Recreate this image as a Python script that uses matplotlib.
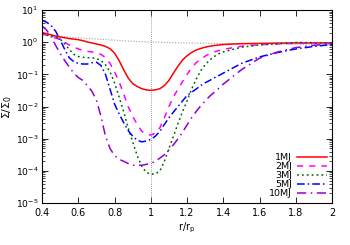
import numpy as np
import matplotlib.pyplot as plt
from matplotlib.ticker import FixedLocator, FuncFormatter, LogLocator, NullFormatter

plt.rcParams['font.family'] = 'DejaVu Sans'
plt.rcParams['font.size'] = 7

# radius grid (r / r_p)
r = [0.400, 0.425, 0.450, 0.475, 0.500, 0.525, 0.550, 0.575, 0.600, 0.625,
     0.650, 0.675, 0.700, 0.725, 0.750, 0.775, 0.800, 0.825, 0.850, 0.875,
     0.900, 0.925, 0.950, 0.975, 1.000, 1.025, 1.050, 1.075, 1.100, 1.125,
     1.150, 1.175, 1.200, 1.225, 1.250, 1.275, 1.300, 1.325, 1.350, 1.375,
     1.400, 1.500, 1.600, 1.700, 1.800, 1.900, 2.000]

# surface density Sigma / Sigma_0
s_1mj = [2.0, 1.85, 1.7, 1.55, 1.45, 1.38, 1.3, 1.25, 1.2, 1.12,
         1.02, 0.95, 0.88, 0.82, 0.74, 0.63, 0.46, 0.27, 0.14, 0.078,
         0.052, 0.042, 0.036, 0.033, 0.032, 0.033, 0.036, 0.045, 0.065, 0.11,
         0.18, 0.28, 0.38, 0.48, 0.57, 0.64, 0.7, 0.75, 0.79, 0.82,
         0.85, 0.9, 0.92, 0.94, 0.95, 0.95, 0.95]
s_2mj = [1.8, 1.65, 1.5, 1.35, 1.2, 1.0, 0.82, 0.7, 0.62, 0.56,
         0.52, 0.5, 0.47, 0.42, 0.33, 0.22, 0.12, 0.06, 0.025, 0.01,
         0.005, 0.0028, 0.0017, 0.0014, 0.0013, 0.0015, 0.0022, 0.0045, 0.01, 0.02,
         0.035, 0.06, 0.1, 0.16, 0.23, 0.3, 0.37, 0.44, 0.5, 0.55,
         0.6, 0.75, 0.84, 0.89, 0.92, 0.94, 0.95]
s_3mj = [1.8, 1.7, 1.6, 1.45, 1.25, 0.9, 0.6, 0.42, 0.36, 0.34,
         0.33, 0.33, 0.31, 0.27, 0.2, 0.12, 0.055, 0.02, 0.007, 0.0022,
         0.0008, 0.0003, 0.00014, 0.00009, 0.00008, 0.00008, 0.0001, 0.0002, 0.0005, 0.0012,
         0.003, 0.007, 0.015, 0.035, 0.07, 0.13, 0.2, 0.28, 0.36, 0.44,
         0.5, 0.7, 0.82, 0.9, 0.98, 0.97, 0.93]
s_5mj = [4.8, 4.2, 3.3, 2.2, 1.2, 0.6, 0.33, 0.25, 0.22, 0.21,
         0.21, 0.23, 0.24, 0.19, 0.1, 0.035, 0.012, 0.006, 0.0032, 0.0018,
         0.0012, 0.0009, 0.0008, 0.00085, 0.00095, 0.0012, 0.0017, 0.0028, 0.0045, 0.0068,
         0.01, 0.015, 0.022, 0.028, 0.035, 0.045, 0.055, 0.065, 0.078, 0.092,
         0.11, 0.22, 0.35, 0.48, 0.62, 0.74, 0.85]
s_10mj = [3.2, 2.4, 1.5, 0.8, 0.45, 0.27, 0.17, 0.11, 0.08, 0.065,
          0.045, 0.03, 0.016, 0.005, 0.0012, 0.0005, 0.0003, 0.00023, 0.0002, 0.00017,
          0.00015, 0.00015, 0.00015, 0.00016, 0.00017, 0.0002, 0.00025, 0.00032, 0.00045, 0.00065,
          0.001, 0.0016, 0.0027, 0.0045, 0.007, 0.0105, 0.015, 0.021, 0.028, 0.037,
          0.05, 0.14, 0.32, 0.5, 0.68, 0.8, 0.9]
s_init = [1.8, 1.72, 1.65, 1.6, 1.55, 1.5, 1.45, 1.41, 1.38, 1.35,
          1.32, 1.29, 1.26, 1.23, 1.21, 1.18, 1.16, 1.13, 1.11, 1.09,
          1.07, 1.05, 1.04, 1.03, 1.02, 1.01, 1.0, 0.99, 0.98, 0.97,
          0.96, 0.955, 0.95, 0.945, 0.94, 0.935, 0.93, 0.925, 0.92, 0.915,
          0.91, 0.9, 0.89, 0.88, 0.87, 0.86, 0.85]

x_ticks = [0.4, 0.6, 0.8, 1.0, 1.2, 1.4, 1.6, 1.8, 2.0]

fig = plt.figure(figsize=(3.5, 2.45), dpi=100)
ax = fig.add_axes([0.12, 0.171, 0.829, 0.788])

ax.plot(r, s_init, color='#a0a0a0', lw=0.8, ls=(0, (1, 1.5)))
ax.axvline(1.0, color='#808080', lw=0.6, ls=(0, (1, 1.5)))

ax.plot(r, s_1mj, color='#ff0000', lw=1.1, label='1MJ')
ax.plot(r, s_2mj, color='#ff00ff', lw=1.1, ls=(0, (4, 4)), label='2MJ')
ax.plot(r, s_3mj, color='#006400', lw=1.1, ls=(0, (1.2, 2)), label='3MJ')
ax.plot(r, s_5mj, color='#0000ff', lw=1.1, ls=(0, (5, 2, 1, 2)), label='5MJ')
ax.plot(r, s_10mj, color='#9400d3', lw=1.1, ls=(0, (6, 3, 1, 3)), label='10MJ')

ax.set_yscale('log')
ax.set_xlim(0.4, 2.0)
ax.set_ylim(1e-5, 10)
ax.xaxis.set_major_locator(FixedLocator(x_ticks))
ax.xaxis.set_major_formatter(FuncFormatter(lambda v, p: '%g' % v))
ax.yaxis.set_major_locator(LogLocator(base=10, numticks=10))
ax.yaxis.set_minor_locator(LogLocator(base=10, subs=np.arange(2, 10), numticks=10))
ax.yaxis.set_minor_formatter(NullFormatter())
ax.tick_params(which='both', direction='in', top=True, right=True)
ax.tick_params(which='major', length=4, width=0.6)
ax.tick_params(which='minor', length=2, width=0.5)
ax.tick_params(axis='y', which='major', labelsize=6.6, pad=2.5)
for s in ax.spines.values():
    s.set_linewidth(0.8)

ax.set_xlabel(r'r/r$_\mathrm{p}$', labelpad=2)
ax.set_ylabel(r'$\Sigma/\Sigma_0$', fontsize=7.8)
ax.yaxis.set_label_coords(-0.095, 0.5)

ax.legend(loc='lower right', frameon=False, markerfirst=False,
          handlelength=3.2, labelspacing=0.0, borderaxespad=0.15,
          handletextpad=0.5, fontsize=6.8)

fig.savefig('out.png', dpi=100)
